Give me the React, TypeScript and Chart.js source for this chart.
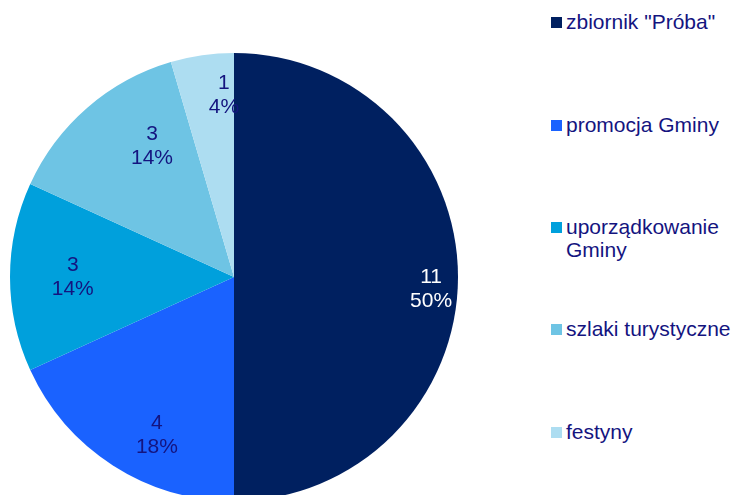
import React, { useEffect, useRef } from "react";
import { Chart, registerables } from "chart.js";

Chart.register(...registerables);

const categories = ["zbiornik \"Próba\"", "promocja Gminy", "uporządkowanie Gminy", "szlaki turystyczne", "festyny"];
const legendLines = [["zbiornik \"Próba\""], ["promocja Gminy"], ["uporządkowanie", "Gminy"], ["szlaki turystyczne"], ["festyny"]];
const values = [11, 4, 3, 3, 1];
const percentLabels = ["50%", "18%", "14%", "14%", "4%"];
const colors = ["#002060", "#1A62FF", "#00A0DC", "#6EC4E4", "#ADDDF1"];
const labelColors = ["#FFFFFF", "#14147F", "#14147F", "#14147F", "#14147F"];

// label block offsets relative to pie center, as fractions of radius
const labelOffsets = [
  [0.88, 0.054],
  [-0.344, 0.705],
  [-0.72, 0.0],
  [-0.366, -0.585],
  [-0.045, -0.81],
];

const FONT = "'Liberation Sans', Arial, sans-serif";

const labelPlugin = {
  id: "sliceLabels",
  afterDatasetsDraw(chart: any) {
    const meta = chart.getDatasetMeta(0);
    const ctx = chart.ctx;
    ctx.save();
    ctx.font = `21px ${FONT}`;
    ctx.textAlign = "center";
    ctx.textBaseline = "middle";
    meta.data.forEach((arc: any, i: number) => {
      const r = arc.outerRadius;
      const x = arc.x + labelOffsets[i][0] * r;
      const y = arc.y + labelOffsets[i][1] * r;
      ctx.fillStyle = labelColors[i];
      ctx.fillText(String(values[i]), x, y - 12);
      ctx.fillText(percentLabels[i], x, y + 12);
    });
    ctx.restore();
  },
};

export default function App() {
  const ref = useRef<HTMLCanvasElement | null>(null);
  useEffect(() => {
    if (!ref.current) return;
    const chart = new Chart(ref.current, {
      type: "pie",
      data: {
        labels: categories,
        datasets: [
          {
            data: values,
            backgroundColor: colors,
            borderWidth: 0,
          },
        ],
      },
      options: {
        animation: false,
        responsive: false,
        maintainAspectRatio: false,
        layout: { padding: 0 },
        plugins: {
          legend: { display: false },
          tooltip: { enabled: false },
        },
      },
      plugins: [labelPlugin],
    });
    return () => chart.destroy();
  }, []);

  const legendTops = [22, 125, 227, 329, 432];

  return (
    <div
      style={{
        position: "fixed",
        left: 0,
        top: 0,
        width: 731,
        height: 495,
        overflow: "hidden",
        background: "#FFFFFF",
        fontFamily: FONT,
      }}
    >
      <canvas
        ref={ref}
        width={448}
        height={448}
        style={{ position: "absolute", left: 10, top: 53, width: 448, height: 448 }}
      />
      {legendLines.map((lines, i) => (
        <div key={i} style={{ position: "absolute", left: 551, top: legendTops[i] - 12 }}>
          <div
            style={{
              position: "absolute",
              left: 0,
              top: 7,
              width: 11,
              height: 11,
              background: colors[i],
            }}
          />
          <div
            style={{
              position: "absolute",
              left: 15,
              top: 0,
              fontSize: 21,
              lineHeight: "23px",
              color: "#14147F",
              whiteSpace: "nowrap",
            }}
          >
            {lines.map((l, j) => (
              <div key={j}>{l}</div>
            ))}
          </div>
        </div>
      ))}
    </div>
  );
}
